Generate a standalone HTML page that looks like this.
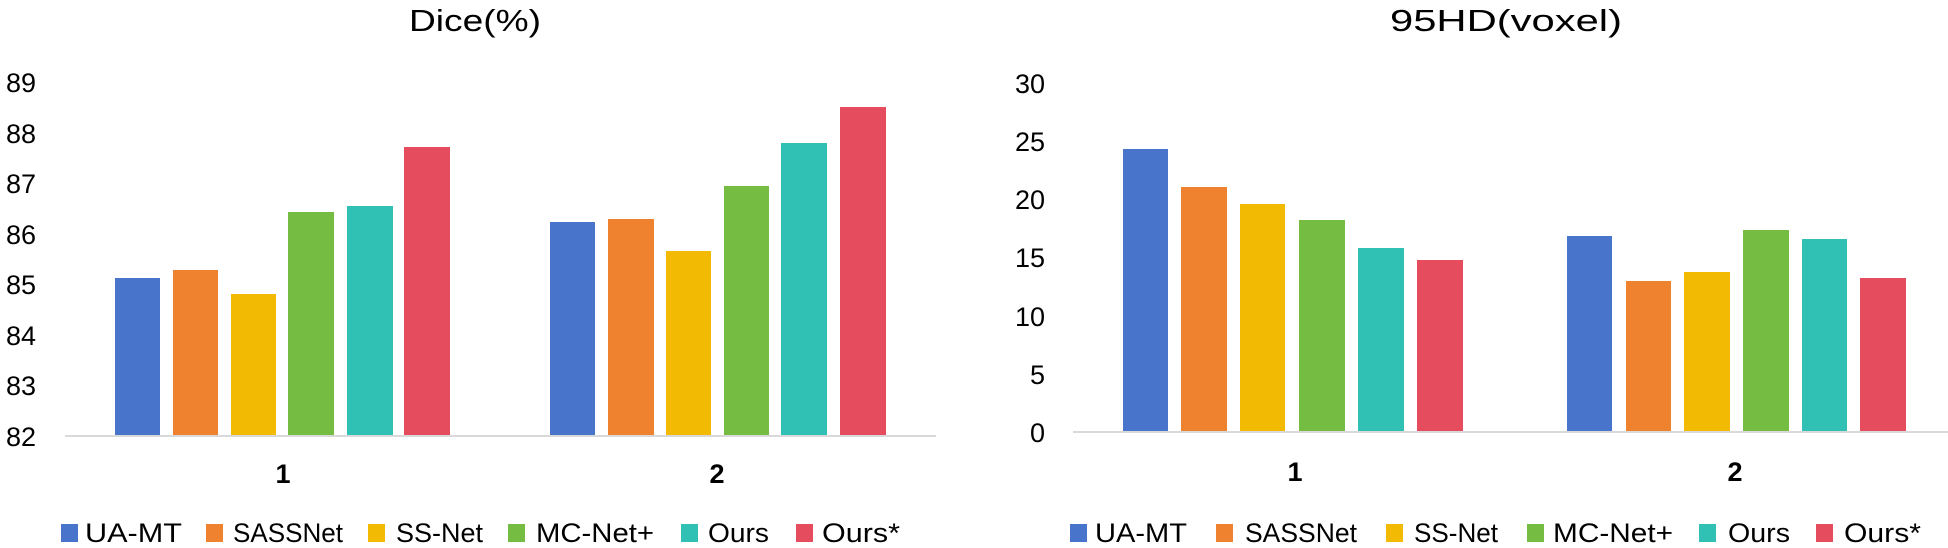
<!DOCTYPE html>
<html><head><meta charset="utf-8"><style>html,body{margin:0;padding:0;background:#fff}svg{display:block}</style></head>
<body>
<svg width="1948" height="548" viewBox="0 0 1948 548" xmlns="http://www.w3.org/2000/svg" font-family="Liberation Sans, sans-serif">
<rect width="1948" height="548" fill="#fff"/>
<!-- titles -->
<text x="475" y="31" font-size="31" text-anchor="middle" textLength="132" lengthAdjust="spacingAndGlyphs" fill="#000">Dice(%)</text>
<text x="1506" y="31" font-size="31" text-anchor="middle" textLength="232" lengthAdjust="spacingAndGlyphs" fill="#000">95HD(voxel)</text>
<!-- left y labels -->
<g font-size="27" fill="#000" text-anchor="end">
<text x="36" y="92">89</text><text x="36" y="143">88</text><text x="36" y="193">87</text><text x="36" y="244">86</text><text x="36" y="294">85</text><text x="36" y="345">84</text><text x="36" y="395">83</text><text x="36" y="446">82</text>
</g>
<!-- right y labels -->
<g font-size="27" fill="#000" text-anchor="end">
<text x="1045" y="93">30</text><text x="1045" y="151">25</text><text x="1045" y="209">20</text><text x="1045" y="267">15</text><text x="1045" y="326">10</text><text x="1045" y="384">5</text><text x="1045" y="442">0</text>
</g>
<!-- left bars -->
<g>
<rect x="115" y="278" width="45" height="158" fill="#4874CB"/>
<rect x="173" y="270" width="45" height="166" fill="#EE822F"/>
<rect x="231" y="294" width="45" height="142" fill="#F2BA02"/>
<rect x="288" y="212" width="46" height="224" fill="#75BD42"/>
<rect x="347" y="206" width="46" height="230" fill="#30C0B4"/>
<rect x="404" y="147" width="46" height="289" fill="#E54C5E"/>
<rect x="550" y="222" width="45" height="214" fill="#4874CB"/>
<rect x="608" y="219" width="46" height="217" fill="#EE822F"/>
<rect x="666" y="251" width="45" height="185" fill="#F2BA02"/>
<rect x="724" y="186" width="45" height="250" fill="#75BD42"/>
<rect x="781" y="143" width="46" height="293" fill="#30C0B4"/>
<rect x="840" y="107" width="46" height="329" fill="#E54C5E"/>
</g>
<line x1="65" y1="436" x2="936" y2="436" stroke="#d9d9d9" stroke-width="2"/>
<!-- right bars -->
<g>
<rect x="1123" y="149" width="45" height="283" fill="#4874CB"/>
<rect x="1181" y="187" width="46" height="245" fill="#EE822F"/>
<rect x="1240" y="204" width="45" height="228" fill="#F2BA02"/>
<rect x="1299" y="220" width="46" height="212" fill="#75BD42"/>
<rect x="1358" y="248" width="46" height="184" fill="#30C0B4"/>
<rect x="1417" y="260" width="46" height="172" fill="#E54C5E"/>
<rect x="1567" y="236" width="45" height="196" fill="#4874CB"/>
<rect x="1626" y="281" width="45" height="151" fill="#EE822F"/>
<rect x="1684" y="272" width="46" height="160" fill="#F2BA02"/>
<rect x="1743" y="230" width="46" height="202" fill="#75BD42"/>
<rect x="1802" y="239" width="45" height="193" fill="#30C0B4"/>
<rect x="1860" y="278" width="46" height="154" fill="#E54C5E"/>
</g>
<line x1="1073" y1="432" x2="1948" y2="432" stroke="#d9d9d9" stroke-width="2"/>
<!-- category labels -->
<g font-size="27" font-weight="bold" fill="#000" text-anchor="middle">
<text x="283" y="483">1</text><text x="717" y="483">2</text>
<text x="1295" y="481">1</text><text x="1735" y="481">2</text>
</g>
<!-- left legend -->
<g font-size="27" fill="#000">
<rect x="61" y="524" width="17" height="18" fill="#4874CB"/><text x="85" y="542" textLength="97" lengthAdjust="spacingAndGlyphs">UA-MT</text>
<rect x="206" y="524" width="17" height="18" fill="#EE822F"/><text x="233" y="542" textLength="110" lengthAdjust="spacingAndGlyphs">SASSNet</text>
<rect x="368" y="524" width="17" height="18" fill="#F2BA02"/><text x="396" y="542" textLength="87" lengthAdjust="spacingAndGlyphs">SS-Net</text>
<rect x="508" y="524" width="17" height="18" fill="#75BD42"/><text x="536" y="542" textLength="118" lengthAdjust="spacingAndGlyphs">MC-Net+</text>
<rect x="681" y="524" width="17" height="18" fill="#30C0B4"/><text x="708" y="542" textLength="61" lengthAdjust="spacingAndGlyphs">Ours</text>
<rect x="796" y="524" width="17" height="18" fill="#E54C5E"/><text x="822" y="542" textLength="78" lengthAdjust="spacingAndGlyphs">Ours*</text>
</g>
<!-- right legend -->
<g font-size="27" fill="#000">
<rect x="1070" y="524" width="17" height="18" fill="#4874CB"/><text x="1095" y="542" textLength="92" lengthAdjust="spacingAndGlyphs">UA-MT</text>
<rect x="1216" y="524" width="17" height="18" fill="#EE822F"/><text x="1245" y="542" textLength="112" lengthAdjust="spacingAndGlyphs">SASSNet</text>
<rect x="1386" y="524" width="17" height="18" fill="#F2BA02"/><text x="1414" y="542" textLength="84" lengthAdjust="spacingAndGlyphs">SS-Net</text>
<rect x="1527" y="524" width="17" height="18" fill="#75BD42"/><text x="1553" y="542" textLength="120" lengthAdjust="spacingAndGlyphs">MC-Net+</text>
<rect x="1699" y="524" width="17" height="18" fill="#30C0B4"/><text x="1728" y="542" textLength="62" lengthAdjust="spacingAndGlyphs">Ours</text>
<rect x="1816" y="524" width="17" height="18" fill="#E54C5E"/><text x="1844" y="542" textLength="77" lengthAdjust="spacingAndGlyphs">Ours*</text>
</g>
</svg>
</body></html>
